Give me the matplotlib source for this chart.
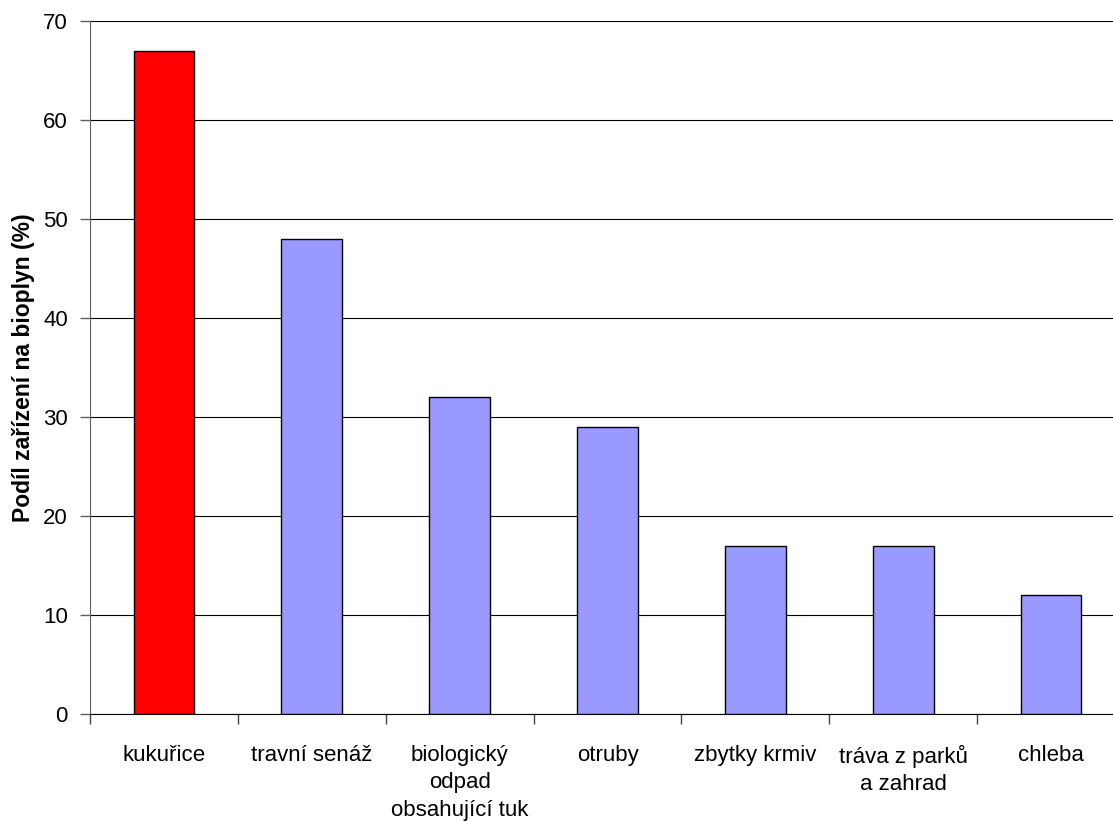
import matplotlib.pyplot as plt
import numpy as np

plt.rcParams['font.family'] = ['Liberation Sans', 'DejaVu Sans']

kategorie = ["kukuřice", "travní senáž", "biologický\nodpad\nobsahující tuk",
             "otruby", "zbytky krmiv", "tráva z parků\na zahrad", "chleba"]
podil = [67, 48, 32, 29, 17, 17, 12]
barvy = ["#ff0000"] + ["#9999ff"] * 6

fig = plt.figure(figsize=(11.13, 8.22), dpi=100)
# axis runs past the right edge of the picture, like the original
ax = fig.add_axes([90 / 1113, 108 / 822, 1035 / 1113, 693 / 822])

x = np.arange(len(kategorie))
ax.bar(x, podil, width=0.41, color=barvy, edgecolor="black", linewidth=1, zorder=3)

ax.set_xlim(-0.5, len(kategorie) - 0.5)
ax.set_ylim(0, 70)
ax.set_yticks(range(0, 71, 10))
ax.yaxis.grid(True, color="black", linewidth=0.8, zorder=0)
ax.set_axisbelow(True)

ax.set_xticks(x)
ax.set_xticklabels(kategorie, fontsize=16, linespacing=1.42)
ax.set_xticks(np.arange(-0.5, len(kategorie), 1), minor=True)
ax.tick_params(axis="x", which="major", length=0, pad=22)
ax.tick_params(axis="x", which="minor", length=7, width=1, color="#404040")
ax.tick_params(axis="y", length=7, width=1, color="#606060", pad=9, labelsize=16)

ax.spines["top"].set_visible(False)
ax.spines["right"].set_visible(False)
ax.spines["left"].set_color("#606060")
ax.spines["bottom"].set_color("black")

ax.set_ylabel("Podíl zařízení na bioplyn (%)", fontsize=16.5, fontweight="bold", labelpad=6)

fig.savefig("out.png", dpi=100)
